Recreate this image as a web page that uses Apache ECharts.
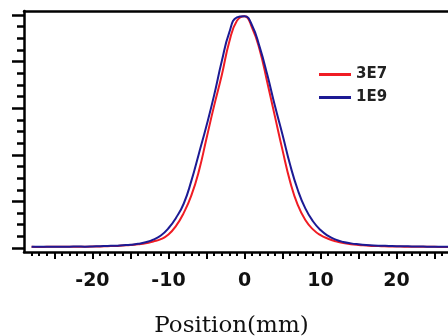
<!DOCTYPE html>
<html><head><meta charset="utf-8">
<script src="https://cdn.jsdelivr.net/npm/echarts@6/dist/echarts.min.js"></script>
<style>html,body{margin:0;padding:0;background:#fff}#c{width:448px;height:336px}</style>
</head><body><div id="c"></div>
<script>
const positions = [-28,-27,-26,-25,-24,-23,-22,-21,-20,-19,-18,-17,-16,-15,-14,-13,-12,-11,-10,-9,-8,-7,-6,-5,-4,-3,-2,-1,0,1,2,3,4,5,6,7,8,9,10,11,12,13,14,15,16,17,18,19,20,21,22,23,24,25,26,27,28,29];
const red3E7 = [0.006,0.004,0.005,0.006,0.005,0.006,0.006,0.005,0.007,0.007,0.008,0.009,0.011,0.013,0.016,0.020,0.028,0.038,0.058,0.095,0.150,0.225,0.330,0.470,0.610,0.740,0.885,0.975,0.995,0.945,0.850,0.710,0.565,0.420,0.285,0.185,0.120,0.080,0.055,0.040,0.029,0.021,0.016,0.013,0.011,0.009,0.008,0.007,0.007,0.006,0.006,0.005,0.005,0.005,0.004,0.005,0.004,0.004];
const blue1E9 = [0.006,0.005,0.006,0.005,0.006,0.006,0.007,0.006,0.007,0.008,0.009,0.010,0.012,0.014,0.018,0.025,0.036,0.054,0.085,0.130,0.190,0.287,0.405,0.525,0.655,0.800,0.925,0.990,0.995,0.955,0.862,0.743,0.610,0.486,0.357,0.250,0.170,0.115,0.077,0.052,0.036,0.026,0.020,0.016,0.013,0.011,0.010,0.009,0.008,0.008,0.007,0.007,0.006,0.006,0.006,0.005,0.006,0.005];
const xLabelValues = [-20,-10,0,10,20];
const xMajorTicks = [-25,-20,-15,-10,-5,0,5,10,15,20,25];
const xMinorTicks = positions.filter(v => v % 5 !== 0);
const yMajorTicks = [0,0.2,0.4,0.6,0.8,1.0];
const yMinorTicks = [0.05,0.1,0.15,0.25,0.3,0.35,0.45,0.5,0.55,0.65,0.7,0.75,0.85,0.9,0.95];

const chart = echarts.init(document.getElementById('c'));
const X_MIN = -29, X_MAX = 29, Y_MIN = -0.017, Y_MAX = 1.017;
const pair = arr => positions.map((x,i)=>[x,arr[i]]);
const noZero = {show:true, onZero:false, lineStyle:{color:'#000', width:2.5}};
chart.setOption({
  animation:false,
  backgroundColor:'#fff',
  grid:{left:24, top:11, width:441, height:241, outerBoundsMode:'none', containLabel:false},
  legend:{
    orient:'vertical', left:314, top:62, itemWidth:32, itemHeight:3, itemGap:8,
    icon:'rect',
    textStyle:{fontFamily:'DejaVu Sans', fontWeight:'bold', fontSize:15, color:'#222'},
    data:['3E7','1E9']
  },
  xAxis:[
    {type:'value', min:X_MIN, max:X_MAX, position:'bottom',
     axisLine:noZero,
     axisTick:{show:true, inside:false, length:7, customValues:xMajorTicks, lineStyle:{color:'#000', width:2}},
     axisLabel:{show:true, customValues:xLabelValues, margin:20, fontFamily:'DejaVu Sans', fontWeight:'bold', fontSize:19, color:'#111'},
     splitLine:{show:false},
     name:'Position(mm)', nameLocation:'middle', nameGap:63,
     nameTextStyle:{fontFamily:'DejaVu Serif', fontSize:23, color:'#111', padding:[0,26,0,0]}
    },
    {type:'value', min:X_MIN, max:X_MAX, position:'bottom',
     axisLine:{show:false, onZero:false},
     axisTick:{show:true, inside:false, length:4, customValues:xMinorTicks, lineStyle:{color:'#000', width:2}},
     axisLabel:{show:false}, splitLine:{show:false}},
    {type:'value', min:X_MIN, max:X_MAX, position:'top',
     axisLine:noZero,
     axisTick:{show:false}, axisLabel:{show:false}, splitLine:{show:false}}
  ],
  yAxis:[
    {type:'value', min:Y_MIN, max:Y_MAX, position:'left',
     axisLine:noZero,
     axisTick:{show:true, inside:false, length:12, customValues:yMajorTicks, lineStyle:{color:'#000', width:2.5}},
     axisLabel:{show:false}, splitLine:{show:false}},
    {type:'value', min:Y_MIN, max:Y_MAX, position:'left',
     axisLine:{show:false, onZero:false},
     axisTick:{show:true, inside:false, length:7, customValues:yMinorTicks, lineStyle:{color:'#000', width:2.5}},
     axisLabel:{show:false}, splitLine:{show:false}}
  ],
  series:[
    {name:'3E7', type:'line', xAxisIndex:0, yAxisIndex:0, data:pair(red3E7), smooth:0.5, showSymbol:false,
     lineStyle:{color:'#f01c24', width:2}, itemStyle:{color:'#f01c24'}},
    {name:'1E9', type:'line', xAxisIndex:0, yAxisIndex:0, data:pair(blue1E9), smooth:0.5, showSymbol:false,
     lineStyle:{color:'#1c1a94', width:2}, itemStyle:{color:'#1c1a94'}}
  ]
});
</script></body></html>
